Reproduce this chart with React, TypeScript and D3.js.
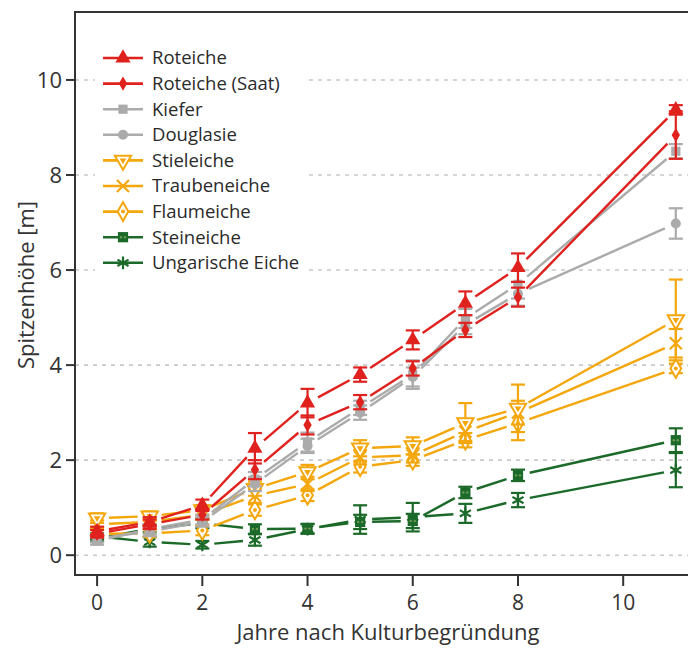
import React from "react";
import * as d3 from "d3";

const years = [0, 1, 2, 3, 4, 5, 6, 7, 8, 11];
const seriesNames = [
  "Roteiche",
  "Roteiche (Saat)",
  "Kiefer",
  "Douglasie",
  "Stieleiche",
  "Traubeneiche",
  "Flaumeiche",
  "Steineiche",
  "Ungarische Eiche",
];
const roteiche = [0.5, 0.7, 1.05, 2.25, 3.2, 3.8, 4.53, 5.3, 6.05, 9.37];
const roteicheSaat = [0.45, 0.65, 0.85, 1.8, 2.74, 3.22, 3.93, 4.74, 5.43, 8.84];
const kiefer = [0.3, 0.55, 0.75, 1.6, 2.38, 3.1, 3.8, 4.98, 5.7, 8.5];
const douglasie = [0.35, 0.5, 0.7, 1.5, 2.3, 3.0, 3.75, 4.85, 5.5, 6.98];
const stieleiche = [0.78, 0.82, 0.95, 1.4, 1.75, 2.25, 2.3, 2.78, 3.09, 4.95];
const traubeneiche = [0.65, 0.7, 0.85, 1.25, 1.5, 2.06, 2.1, 2.6, 3.0, 4.46];
const flaumeiche = [0.45, 0.46, 0.52, 0.95, 1.26, 1.86, 2.0, 2.42, 2.78, 3.93];
const steineiche = [0.35, 0.56, 0.67, 0.55, 0.56, 0.7, 0.72, 1.32, 1.68, 2.42];
const ungarische = [0.4, 0.28, 0.22, 0.32, 0.55, 0.75, 0.8, 0.88, 1.16, 1.79];

const errRoteiche = [0.1, 0.1, 0.12, 0.32, 0.3, 0.15, 0.2, 0.25, 0.3, 0.1];
const errRoteicheSaat = [0.08, 0.1, 0.1, 0.2, 0.2, 0.15, 0.15, 0.15, 0.2, 0.5];
const errKiefer = [0.08, 0.1, 0.1, 0.15, 0.2, 0.15, 0.3, 0.2, 0.3, 0.15];
const errDouglasie = [0.08, 0.1, 0.1, 0.15, 0.15, 0.15, 0.2, 0.2, 0.25, 0.32];
const errStieleiche = [0.1, 0.1, 0.1, 0.15, 0.15, 0.17, 0.18, 0.42, 0.5, 0.85];
const errTraubeneiche = [0.08, 0.08, 0.1, 0.15, 0.15, 0.15, 0.15, 0.2, 0.25, 0.3];
const errFlaumeiche = [0.08, 0.08, 0.1, 0.12, 0.12, 0.12, 0.12, 0.15, 0.36, 0.1];
const errSteineiche = [0.06, 0.08, 0.1, 0.1, 0.1, 0.15, 0.15, 0.12, 0.12, 0.25];
const errUngarische = [0.06, 0.1, 0.08, 0.12, 0.1, 0.3, 0.3, 0.2, 0.15, 0.36];

const xTicks = [0, 2, 4, 6, 8, 10];
const yTicks = [0, 2, 4, 6, 8, 10];

const RED = "#e0221f";
const GRAY = "#ababab";
const YEL = "#f4a70c";
const GRN = "#1c6a2a";

const colors = [RED, RED, GRAY, GRAY, YEL, YEL, YEL, GRN, GRN];
const markers = ["triUp", "diamond", "square", "circle", "triDown", "x", "openDiamond", "square2", "asterisk"];
const values = [roteiche, roteicheSaat, kiefer, douglasie, stieleiche, traubeneiche, flaumeiche, steineiche, ungarische];
const errors = [errRoteiche, errRoteicheSaat, errKiefer, errDouglasie, errStieleiche, errTraubeneiche, errFlaumeiche, errSteineiche, errUngarische];

const W = 688;
const H = 648;
const FONT = "'Open Sans', 'DejaVu Sans', sans-serif";

const x = d3.scaleLinear().domain([-0.42, 11.65]).range([75, 710]);
const y = d3.scaleLinear().domain([-0.48, 11.43]).range([578, 12]);

function Marker({ kind, color, cx, cy }: { kind: string; color: string; cx: number; cy: number }) {
  const t = `translate(${cx},${cy})`;
  switch (kind) {
    case "triUp":
      return <path transform={t} d={d3.symbol(d3.symbolTriangle, 100)()!} fill={color} />;
    case "diamond":
      return <path transform={t} d={d3.symbol(d3.symbolDiamond, 60)()!} fill={color} />;
    case "square":
      return <path transform={t} d={d3.symbol(d3.symbolSquare, 85)()!} fill={color} />;
    case "circle":
      return <path transform={t} d={d3.symbol(d3.symbolCircle, 80)()!} fill={color} />;
    case "triDown":
      return (
        <g transform={t + " rotate(180)"}>
          <path d={d3.symbol(d3.symbolTriangle, 115)()!} fill="#fff" stroke={color} strokeWidth={2} />
          <path d={d3.symbol(d3.symbolTriangle, 20)()!} fill={color} />
        </g>
      );
    case "x":
      return <path transform={t} d={d3.symbol(d3.symbolX, 95)()!} fill="none" stroke={color} strokeWidth={2.2} />;
    case "openDiamond":
      return (
        <g transform={t}>
          <path d={d3.symbol(d3.symbolDiamond, 100)()!} fill="#fff" stroke={color} strokeWidth={2} />
          <circle r={2} fill={color} />
        </g>
      );
    case "square2":
      return (
        <g transform={t}>
          <path d={d3.symbol(d3.symbolSquare, 105)()!} fill={color} />
          <circle cx={-2} cy={0} r={1.2} fill="#6f9a55" />
          <circle cx={2} cy={0} r={1.2} fill="#6f9a55" />
        </g>
      );
    case "asterisk":
      return <path transform={t} d={d3.symbol(d3.symbolAsterisk, 115)()!} fill="none" stroke={color} strokeWidth={2.2} />;
    default:
      return null;
  }
}

function trimmedSegments(vals: number[]) {
  const segs: { x1: number; y1: number; x2: number; y2: number }[] = [];
  const gap = 12;
  for (let i = 0; i < vals.length - 1; i++) {
    const ax = x(years[i]);
    const ay = y(vals[i]);
    const bx = x(years[i + 1]);
    const by = y(vals[i + 1]);
    const dx = bx - ax;
    const dy = by - ay;
    const len = Math.sqrt(dx * dx + dy * dy);
    if (len <= 2 * gap) continue;
    const ux = dx / len;
    const uy = dy / len;
    segs.push({ x1: ax + ux * gap, y1: ay + uy * gap, x2: bx - ux * gap, y2: by - uy * gap });
  }
  return segs;
}

export default function App() {
  const order = d3.range(seriesNames.length).reverse();
  const legendY0 = 58;
  const legendStep = 25.6;
  return (
    <svg width={W} height={H} style={{ position: "absolute", left: 0, top: 0, display: "block" }} fontFamily={FONT}>
      <rect x={0} y={0} width={W} height={H} fill="#fff" />
      {yTicks.map((v) => (
        <line key={"g" + v} x1={x.range()[0]} x2={W} y1={y(v)} y2={y(v)} stroke="#c9c9c9" strokeWidth={1.6} strokeDasharray="4,5" />
      ))}
      {order.map((s) => (
        <g key={"l" + s}>
          {trimmedSegments(values[s]).map((sg, i) => (
            <line key={i} {...sg} stroke={colors[s]} strokeWidth={2.4} />
          ))}
        </g>
      ))}
      {order.map((s) => (
        <g key={"m" + s}>
          {values[s].map((v, i) => {
            const cx = x(years[i]);
            const top = y(v + errors[s][i]);
            const bot = y(v - errors[s][i]);
            return (
              <g key={i}>
                <line x1={cx} x2={cx} y1={top} y2={bot} stroke={colors[s]} strokeWidth={2.2} />
                <line x1={cx - 7} x2={cx + 7} y1={top} y2={top} stroke={colors[s]} strokeWidth={2.2} />
                <line x1={cx - 7} x2={cx + 7} y1={bot} y2={bot} stroke={colors[s]} strokeWidth={2.2} />
                <Marker kind={markers[s]} color={colors[s]} cx={cx} cy={y(v)} />
              </g>
            );
          })}
        </g>
      ))}
      <rect x={95} y={40} width={210} height={240} fill="#fff" />
      {seriesNames.map((n, i) => {
        const ly = legendY0 + i * legendStep;
        return (
          <g key={"lg" + i}>
            <line x1={103} x2={143} y1={ly} y2={ly} stroke={colors[i]} strokeWidth={2.6} />
            <Marker kind={markers[i]} color={colors[i]} cx={123} cy={ly} />
            <text x={152} y={ly} dy="0.35em" fontSize={18.5} fill="#2a2a2a">
              {n}
            </text>
          </g>
        );
      })}
      <path d={`M${W},12H75V575H${W}`} fill="none" stroke="#333" strokeWidth={2} />
      {yTicks.map((v) => (
        <g key={"yt" + v}>
          <line x1={66} x2={75} y1={y(v)} y2={y(v)} stroke="#333" strokeWidth={2} />
          <text x={62} y={y(v)} dy="0.36em" textAnchor="end" fontSize={22} fill="#333">
            {v}
          </text>
        </g>
      ))}
      {xTicks.map((v) => (
        <g key={"xt" + v}>
          <line x1={x(v)} x2={x(v)} y1={575} y2={586} stroke="#333" strokeWidth={2} />
          <text x={x(v)} y={610} textAnchor="middle" fontSize={21} fill="#333">
            {v}
          </text>
        </g>
      ))}
      <text x={388} y={640} textAnchor="middle" fontSize={22} fill="#333">
        Jahre nach Kulturbegründung
      </text>
      <text transform={`translate(34,285) rotate(-90)`} textAnchor="middle" fontSize={22} fill="#333">
        Spitzenhöhe [m]
      </text>
    </svg>
  );
}
